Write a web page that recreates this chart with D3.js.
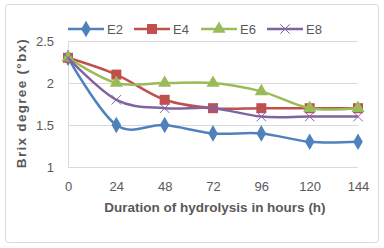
<!DOCTYPE html>
<html>
<head>
<meta charset="utf-8">
<script src="https://cdn.jsdelivr.net/npm/d3@7"></script>
<style>
  body { margin: 0; background: #fff; }
  text { font-family: "Liberation Sans", Arial, sans-serif; fill: #595959; }
</style>
</head>
<body>
<svg id="chart"></svg>
<script>
const hours = [0, 24, 48, 72, 96, 120, 144]
const yTicks = [1, 1.5, 2, 2.5]
const seriesNames = ['E2', 'E4', 'E6', 'E8']
const e2 = [2.3, 1.5, 1.5, 1.4, 1.4, 1.3, 1.3]
const e4 = [2.3, 2.1, 1.8, 1.7, 1.7, 1.7, 1.7]
const e6 = [2.3, 2.0, 2.0, 2.0, 1.9, 1.7, 1.7]
const e8 = [2.3, 1.8, 1.7, 1.7, 1.6, 1.6, 1.6]

const width = 384, height = 248
const margin = {top: 41, right: 26, bottom: 81, left: 68}

const colors = ['#4f81bd', '#c0504d', '#9bbb59', '#8064a2']
const symbols = [d3.symbolDiamond, d3.symbolSquare, d3.symbolTriangle, d3.symbolTimes]
const sizes = [80, 100, 75, 60]

const series = [e2, e4, e6, e8].map((vals, i) => ({
  name: seriesNames[i],
  values: vals.map((v, j) => ({x: hours[j], y: v}))
}))

const svg = d3.select('#chart')
  .attr('width', width)
  .attr('height', height)

svg.append('rect')
  .attr('x', 5.5).attr('y', 4.5)
  .attr('width', 373).attr('height', 238)
  .attr('rx', 3)
  .attr('fill', '#fff')
  .attr('stroke', '#d9d9d9')

const xScale = d3.scaleLinear()
  .domain([0, 144])
  .range([margin.left, width - margin.right])

const yScale = d3.scaleLinear()
  .domain([1, 2.5])
  .range([height - margin.bottom, margin.top])

// gridlines
svg.append('g')
  .selectAll('line')
  .data(yTicks)
  .join('line')
  .attr('x1', margin.left)
  .attr('x2', width - margin.right)
  .attr('y1', d => Math.round(yScale(d)) + 0.5)
  .attr('y2', d => Math.round(yScale(d)) + 0.5)
  .attr('stroke', '#d9d9d9')

// y axis line
svg.append('line')
  .attr('x1', margin.left + 0.5).attr('x2', margin.left + 0.5)
  .attr('y1', margin.top).attr('y2', height - margin.bottom)
  .attr('stroke', '#d9d9d9')

const yAxis = d3.axisLeft(yScale).tickValues(yTicks).tickSize(0).tickPadding(14)
  .tickFormat(d3.format('~g'))
svg.append('g')
  .attr('transform', 'translate(' + [margin.left, 0] + ')')
  .call(yAxis)
  .call(g => g.select('.domain').remove())
  .selectAll('text')
  .style('font-size', '13px')
  .attr('fill', '#595959')

const xAxis = d3.axisBottom(xScale).tickValues(hours).tickSize(0).tickPadding(15)
svg.append('g')
  .attr('transform', 'translate(' + [0, height - margin.bottom] + ')')
  .call(xAxis)
  .call(g => g.select('.domain').remove())
  .selectAll('text')
  .style('font-size', '13px')
  .attr('fill', '#595959')

svg.append('text')
  .attr('x', 215).attr('y', 212)
  .attr('text-anchor', 'middle')
  .style('font-size', '13.5px')
  .style('font-weight', 'bold')
  .text('Duration of hydrolysis in hours (h)')

svg.append('text')
  .attr('transform', 'translate(26,103) rotate(-90)')
  .attr('text-anchor', 'middle')
  .style('font-size', '13.5px')
  .style('font-weight', 'bold')
  .style('letter-spacing', '1.3px')
  .text('Brix degree (°bx)')

const line = d3.line()
  .x(d => xScale(d.x))
  .y(d => yScale(d.y))
  .curve(d3.curveCatmullRom.alpha(0))

const gSeries = svg.append('g')
  .selectAll('g')
  .data(series)
  .join('g')

gSeries.append('path')
  .attr('d', d => line(d.values))
  .attr('fill', 'none')
  .attr('stroke', (d, i) => colors[i])
  .attr('stroke-width', 2.5)

gSeries.each(function (d, i) {
  d3.select(this).selectAll('path.mark')
    .data(d.values)
    .join('path')
    .attr('class', 'mark')
    .attr('transform', p => 'translate(' + [xScale(p.x), yScale(p.y)] + ')')
    .attr('d', d3.symbol().type(symbols[i]).size(sizes[i]))
    .attr('fill', i === 3 ? 'none' : colors[i])
    .attr('stroke', colors[i])
    .attr('stroke-width', i === 3 ? 1 : 0)
})

// legend
const legendX = [68, 134, 201, 267]
const legend = svg.append('g')
  .selectAll('g')
  .data(seriesNames)
  .join('g')
  .attr('transform', (d, i) => 'translate(' + [legendX[i], 29] + ')')

legend.append('line')
  .attr('x1', 0).attr('x2', 36)
  .attr('stroke', (d, i) => colors[i])
  .attr('stroke-width', 2.5)

legend.append('path')
  .attr('transform', 'translate(18,0)')
  .attr('d', (d, i) => d3.symbol().type(symbols[i]).size(sizes[i])())
  .attr('fill', (d, i) => i === 3 ? 'none' : colors[i])
  .attr('stroke', (d, i) => colors[i])
  .attr('stroke-width', (d, i) => i === 3 ? 1 : 0)

legend.append('text')
  .attr('x', 39).attr('y', 5)
  .style('font-size', '13px')
  .text(d => d)
</script>
</body>
</html>
